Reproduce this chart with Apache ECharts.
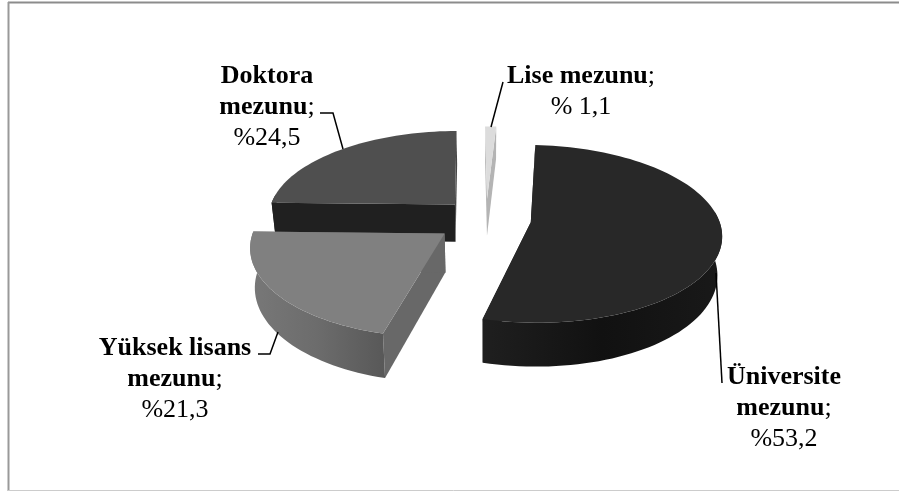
<!DOCTYPE html>
<html><head><meta charset="utf-8">
<style>html,body{margin:0;padding:0;background:#fff}#c{width:899px;height:491px}</style>
<script src="https://cdn.jsdelivr.net/npm/echarts@6/dist/echarts.min.js"></script>
</head><body><div id="c"></div>
<script>
const categories = ['Üniversite', 'Yüksek lisans', 'Doktora', 'Lise'];
const values = [53.2, 21.3, 24.5, 1.1];
const labelBold = [['Üniversite', 'mezunu'], ['Yüksek lisans', 'mezunu'], ['Doktora', 'mezunu'], ['Lise mezunu']];
const labelValue = ['%53,2', '%21,3', '%24,5', '% 1,1'];

const explosion = [0.24, 0.27, 0.24, 0.24];
const stackOrder = [2, 3, 0, 1];
const topColors = ['#282828', '#808080', '#4f4f4f', '#dcdcdc'];
const startWallColors = ['#1a1a1a', '#686868', '#202020', '#b4b4b4'];
const endWallColors = ['#1a1a1a', '#686868', '#474747', '#b4b4b4'];
const arcColors = [
  [[0, '#1f1f1f'], [0.5, '#111111'], [1, '#191919']],
  [[0, '#787878'], [0.5, '#6c6c6c'], [1, '#585858']],
  [[0, '#202020'], [1, '#202020']],
  [[0, '#b4b4b4'], [1, '#b4b4b4']]
];
const labelPos = [[784, 408], [175, 379], [267, 107], [581, 92]];
const leaders = [
  [[716, 273], [722, 383]],
  [[258, 354], [270, 354], [278, 332]],
  [[320, 113], [333, 113], [343, 149]],
  [[503, 82], [491, 127]]
];
const view = {cx: 486, cy: 219, rx: 188, ry: 86.6, k: 0.129, depth: 38, baseScale: 0.98, start: 3.3};

function project(u, v, low) {
  const w = 1 - view.k * v;
  const s = low ? view.baseScale : 1;
  return [
    view.cx + s * view.rx * u / w,
    view.cy + view.ry * v / w + (low ? view.depth / w : 0)
  ];
}
const total = values.reduce((a, b) => a + b, 0);
const starts = [];
values.reduce((acc, v, i) => { starts[i] = acc; return acc + v / total * 360; }, view.start);

function renderSlice(params, api) {
  const i = api.value(0);
  const a0 = starts[i], a1 = a0 + api.value(1) / total * 360;
  const mid = (a0 + a1) / 2 * Math.PI / 180;
  const ou = Math.sin(mid) * explosion[i], ov = -Math.cos(mid) * explosion[i];
  const steps = Math.max(4, Math.ceil((a1 - a0) / 2));
  const arc = [], frontArc = [];
  for (let s = 0; s <= steps; s++) {
    const a = (a0 + (a1 - a0) * s / steps) * Math.PI / 180;
    const p = [ou + Math.sin(a), ov - Math.cos(a)];
    arc.push(p);
    if (-Math.cos(a) > -0.15) frontArc.push(p);
  }
  const z = stackOrder[i] * 10;
  const poly = (pts, fill, z2) => ({
    type: 'polygon', z2: z + z2, silent: true,
    shape: {points: pts},
    style: {fill: fill, stroke: null}
  });
  const P = (p, low) => project(p[0], p[1], low);
  const apex = [ou, ov];
  const topPts = [P(apex)].concat(arc.map(p => P(p)));
  const radial = e => [P(apex), P(e), P(e, true), P(apex, true)];
  const children = [
    poly(radial(arc[0]), startWallColors[i], 1),
    poly(radial(arc[arc.length - 1]), endWallColors[i], 1)
  ];
  if (frontArc.length > 1) {
    const wallPts = frontArc.map(p => P(p)).concat(frontArc.slice().reverse().map(p => P(p, true)));
    const grad = new echarts.graphic.LinearGradient(0, 0, 1, 0,
      arcColors[i].map(c => ({offset: c[0], color: c[1]})));
    children.push(poly(wallPts, grad, 2));
  }
  children.push(poly(topPts, topColors[i], 3));
  return {type: 'group', children: children};
}

function labelRich(i) {
  const b = labelBold[i];
  const lines = b.map((t, n) => '{b|' + t + '}' + (n === b.length - 1 ? '{n|;}' : ''));
  lines.push('{n|' + labelValue[i] + '}');
  return lines.join('\n');
}
const fontFamily = '"Liberation Serif","Times New Roman",serif';
const chart = echarts.init(document.getElementById('c'), null, {renderer: 'canvas'});
const frame = [
  {type: 'line', shape: {x1: 8, y1: 2.5, x2: 899, y2: 2.5}, style: {stroke: '#8c8c8c', lineWidth: 2}},
  {type: 'line', shape: {x1: 8.5, y1: 2, x2: 8.5, y2: 491}, style: {stroke: '#999999', lineWidth: 2}},
  {type: 'line', shape: {x1: 8, y1: 490.5, x2: 899, y2: 490.5}, style: {stroke: '#cccccc', lineWidth: 1}}
];
const leaderEls = leaders.map(pts => ({
  type: 'polyline', shape: {points: pts},
  style: {stroke: '#000', lineWidth: 1.5, fill: null}, z: 5
}));
const labelEls = categories.map((c, i) => ({
  type: 'text', x: labelPos[i][0], y: labelPos[i][1], z: 6,
  style: {
    text: labelRich(i), align: 'center', verticalAlign: 'middle',
    fontFamily: fontFamily, fontSize: 26, fill: '#000', lineHeight: 31,
    rich: {
      b: {fontFamily: fontFamily, fontSize: 26, fontWeight: 'bold', fill: '#000', lineHeight: 31},
      n: {fontFamily: fontFamily, fontSize: 26, fill: '#000', lineHeight: 31}
    }
  }
}));
chart.setOption({
  animation: false,
  backgroundColor: '#fff',
  graphic: {elements: frame.concat(leaderEls, labelEls)},
  series: [{
    type: 'custom',
    coordinateSystem: 'none',
    silent: true,
    renderItem: renderSlice,
    encode: {},
    data: categories.map((c, i) => ({name: c, value: [i, values[i]]}))
  }]
});
</script></body></html>
